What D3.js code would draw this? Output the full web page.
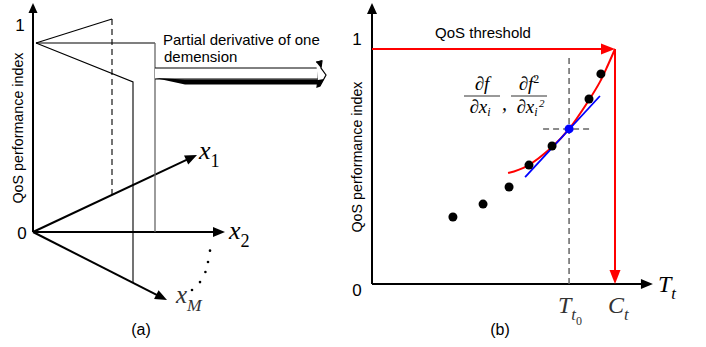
<!DOCTYPE html>
<html>
<head>
<meta charset="utf-8">
<script src="https://cdn.jsdelivr.net/npm/d3@7"></script>
<style>
  body { margin: 0; background: #fff; }
  text { font-family: "Liberation Sans", Arial, sans-serif; }
  .math { font-family: "Liberation Serif", "DejaVu Serif", serif; font-style: italic; }
</style>
</head>
<body>
<div id="chart"></div>
<script>
// ---- data, panel (a): sketch in its own unit square ----
var axisA = { y: [0, 1.106], x1: [0.82, 0.372], x2: [0.96, 0], xM: [0.67, -0.329] }
var peakA = [0.015, 0.913]
var dashTop = [0.395, 1.029], dashBottom = [0.395, 0.179]
var pathX2 = [[0.015, 0.913], [0.61, 0.913], [0.61, 0]]
var pathXM = [[0.015, 0.913], [0.5, 0.725], [0.5, -0.246]]
var dotsA = [[0.885, -0.09], [0.875, -0.145], [0.862, -0.193], [0.835, -0.242], [0.795, -0.28]]

// ---- data, panel (b) ----
var Tt0 = 0.811, Ct = 1, threshold = 1
var samples = [[0.333, 0.285], [0.457, 0.340], [0.564, 0.413], [0.646, 0.506], [0.741, 0.587], [0.893, 0.787], [0.942, 0.894]]
var pivot = [0.811, 0.660]
var fitCurve = [[0.560, 0.472], [0.638, 0.502], [0.741, 0.583], [0.811, 0.660], [0.893, 0.783], [0.938, 0.860], [0.971, 0.932], [1.0, 1.0]]
var tangent = [[0.630, 0.455], [0.938, 0.800]]
var crossH = [0.704, 0.897]
var axisBEnd = { x: 1.156, y: 1.196 }

var width = 706, height = 347
var svg = d3.select("#chart").append("svg").attr("width", width).attr("height", height)

var xa = d3.scaleLinear().domain([0, 1]).range([33, 233])
var ya = d3.scaleLinear().domain([0, 1]).range([232, 25])
var xb = d3.scaleLinear().domain([0, 1]).range([372, 615])
var yb = d3.scaleLinear().domain([0, 1]).range([284, 49])

// line with a filled triangle at the end
function arrow(g, p0, p1, color, sw, len, half) {
    var dx = p1[0] - p0[0], dy = p1[1] - p0[1]
    var d = Math.sqrt(dx * dx + dy * dy), ux = dx / d, uy = dy / d
    var bx = p1[0] - ux * len, by = p1[1] - uy * len
    g.append("line").attr("x1", p0[0]).attr("y1", p0[1]).attr("x2", bx + ux).attr("y2", by + uy)
        .attr("stroke", color).attr("stroke-width", sw)
    g.append("polygon").attr("fill", color)
        .attr("points", [[p1[0], p1[1]], [bx - uy * half, by + ux * half], [bx + uy * half, by - ux * half]].join(" "))
}
var pa = d => [xa(d[0]), ya(d[1])]
var pb = d => [xb(d[0]), yb(d[1])]

// ================= panel (a) =================
var ga = svg.append("g")
var o = pa([0, 0])
arrow(ga, o, pa(axisA.y), "#000", 2, 10, 4.5)
arrow(ga, o, pa(axisA.x1), "#000", 2, 12, 5)
arrow(ga, o, pa(axisA.x2), "#000", 2, 12, 5)
arrow(ga, o, pa(axisA.xM), "#000", 2, 12, 5)

var lineA = d3.line().x(d => xa(d[0])).y(d => ya(d[1]))
ga.append("path").attr("d", lineA([peakA, dashTop])).attr("fill", "none").attr("stroke", "#000").attr("stroke-width", 1.1)
ga.append("path").attr("d", lineA([dashTop, dashBottom])).attr("fill", "none").attr("stroke", "#000")
    .attr("stroke-width", 1.1).attr("stroke-dasharray", "6,4")
ga.append("path").attr("d", lineA(pathX2.slice(0, 2))).attr("fill", "none").attr("stroke", "#000").attr("stroke-width", 1.1)
ga.append("path").attr("d", lineA(pathX2.slice(1))).attr("fill", "none").attr("stroke", "#666").attr("stroke-width", 1.3)
ga.append("path").attr("d", lineA(pathXM)).attr("fill", "none").attr("stroke", "#000").attr("stroke-width", 1.1)

ga.selectAll(".dotA").data(dotsA).join("circle").attr("cx", d => xa(d[0])).attr("cy", d => ya(d[1]))
    .attr("r", 1.3).attr("fill", "#000")

// ribbon arrow
var rx0 = xa(0.61), rx1 = 318
ga.append("path").attr("d", `M${rx0},68 L${rx1},68 L${rx1},79 L${rx0},79`).attr("fill", "#fff").attr("stroke", "#000").attr("stroke-width", 1)
ga.append("path").attr("d", `M${rx0},78 L${rx0 + 30},79.5 L${rx1},79.5 L${rx1},84.5 L${rx0 + 30},84.5 Z`).attr("fill", "#000")
ga.append("path").attr("d", `M${rx1 - 2},62 L${rx1 + 4},61 L${rx1 + 3},68 L${rx1 + 8},75 L${rx1 + 2},86 L${rx1 - 1},87 L${rx1},80`)
    .attr("fill", "#fff").attr("stroke", "#000").attr("stroke-width", 1.2)
ga.append("path").attr("d", `M${rx1 - 2},62 L${rx1 + 4},60 L${rx1 + 3},68 Z`).attr("fill", "#000")
ga.append("path").attr("d", `M${rx1},80 L${rx1 + 6},79 L${rx1 + 2},86 L${rx1 - 1},87 Z`).attr("fill", "#000")

ga.append("text").attr("x", 163).attr("y", 45).attr("font-size", 15).text("Partial derivative of one")
ga.append("text").attr("x", 164).attr("y", 62).attr("font-size", 15).text("demension")

ga.append("text").attr("x", 20).attr("y", 31).attr("font-size", 17).attr("text-anchor", "middle").text("1")
ga.append("text").attr("x", 22).attr("y", 239).attr("font-size", 17).attr("text-anchor", "middle").text("0")
ga.append("text").attr("transform", "translate(23,128) rotate(-90)").attr("font-size", 14.3)
    .attr("text-anchor", "middle").text("QoS performance index")

function sub(g, x, y, main, s, size, s2) {
    var t = g.append("text").attr("class", "math").attr("x", x).attr("y", y).attr("font-size", size).text(main)
    t.append("tspan").attr("dy", size * 0.3).attr("font-size", size * 0.7).attr("font-style", s.match(/\d/) ? "normal" : "italic").text(s)
    if (s2) t.append("tspan").attr("dy", size * 0.2).attr("font-size", size * 0.5).attr("font-style", "normal").text(s2)
    return t
}
sub(ga, 199, 159, "x", "1", 26)
sub(ga, 229, 239, "x", "2", 26)
sub(ga, 176, 303, "x", "M", 25).attr("fill", "#333")
ga.append("text").attr("x", 141).attr("y", 335).attr("font-size", 16).attr("text-anchor", "middle").text("(a)")

// ================= panel (b) =================
var gb = svg.append("g")
var ob = pb([0, 0])
arrow(gb, ob, pb([0, axisBEnd.y]), "#000", 2, 11, 5)
arrow(gb, ob, pb([axisBEnd.x, 0]), "#000", 2, 12, 5)

var lineB = d3.line().x(d => xb(d[0])).y(d => yb(d[1]))
gb.append("path").attr("d", lineB([[Tt0, 0], [Tt0, 0.962]])).attr("stroke", "#666").attr("stroke-width", 1.5)
    .attr("stroke-dasharray", "6,4").attr("fill", "none")
gb.append("path").attr("d", lineB([[crossH[0], pivot[1]], [crossH[1], pivot[1]]])).attr("stroke", "#666").attr("stroke-width", 1.5)
    .attr("stroke-dasharray", "6,4").attr("fill", "none")

arrow(gb, pb([0, threshold]), pb([Ct, threshold]), "#f00", 2, 14, 5.5)
arrow(gb, pb([Ct, threshold]), pb([Ct, 0]), "#f00", 2, 14, 5.5)

gb.append("path").attr("d", d3.line().curve(d3.curveCatmullRom).x(d => xb(d[0])).y(d => yb(d[1]))(fitCurve))
    .attr("fill", "none").attr("stroke", "#f00").attr("stroke-width", 2)
gb.append("path").attr("d", lineB(tangent)).attr("fill", "none").attr("stroke", "#00f").attr("stroke-width", 1.8)

gb.selectAll(".dotB").data(samples).join("circle").attr("cx", d => xb(d[0])).attr("cy", d => yb(d[1]))
    .attr("r", 4.5).attr("fill", "#000")
gb.append("circle").attr("cx", xb(pivot[0])).attr("cy", yb(pivot[1])).attr("r", 4.5).attr("fill", "#00f")

gb.append("text").attr("x", 357).attr("y", 45).attr("font-size", 17).attr("text-anchor", "middle").text("1")
gb.append("text").attr("x", 357).attr("y", 296).attr("font-size", 17).attr("text-anchor", "middle").text("0")
gb.append("text").attr("x", 483).attr("y", 38).attr("font-size", 15).attr("text-anchor", "middle").text("QoS threshold")
gb.append("text").attr("transform", "translate(362,157) rotate(-90)").attr("font-size", 14.3)
    .attr("text-anchor", "middle").text("QoS performance index")

// fractions
function frac(g, cx, num, numSup, den, denSup) {
    var size = 19
    var n = g.append("text").attr("class", "math").attr("x", cx).attr("y", 90).attr("font-size", size).attr("text-anchor", "middle").text(num)
    if (numSup) n.append("tspan").attr("dy", -7).attr("font-size", 12).attr("font-style", "normal").text(numSup)
    g.append("line").attr("x1", cx - 18).attr("x2", cx + 18).attr("y1", 96).attr("y2", 96).attr("stroke", "#333").attr("stroke-width", 1)
    var d = g.append("text").attr("class", "math").attr("x", cx - 2).attr("y", 113).attr("font-size", size).attr("text-anchor", "middle").text(den)
    d.append("tspan").attr("dy", 3).attr("font-size", 12).text("i")
    if (denSup) g.append("text").attr("class", "math").attr("x", cx + 10).attr("y", 107).attr("font-size", 11)
        .attr("font-style", "normal").text(denSup)
}
frac(gb, 482, "∂f", null, "∂x", null)
gb.append("text").attr("class", "math").attr("x", 502).attr("y", 110).attr("font-size", 20).text(",")
frac(gb, 529, "∂f", "2", "∂x", "2")

sub(gb, 558, 313, "T", "t", 24, "0").attr("fill", "#333")
sub(gb, 608, 313, "C", "t", 24).attr("fill", "#333")
sub(gb, 658, 292, "T", "t", 24)
gb.append("text").attr("x", 500).attr("y", 335).attr("font-size", 16).attr("text-anchor", "middle").text("(b)")
</script>
</body>
</html>
